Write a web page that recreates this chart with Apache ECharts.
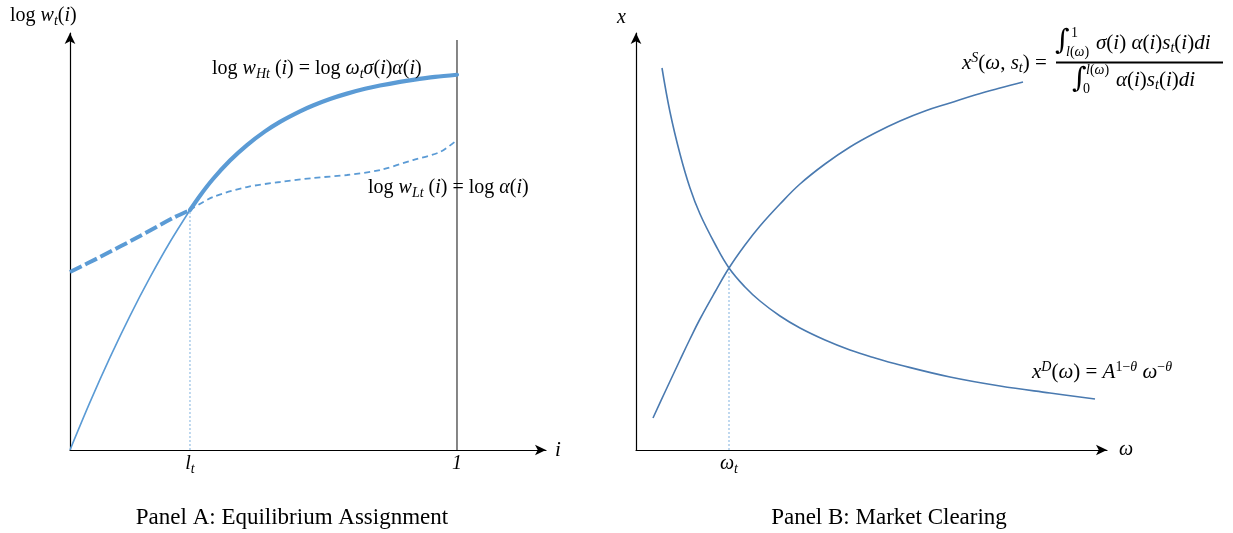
<!DOCTYPE html>
<html><head><meta charset="utf-8">
<script src="https://cdn.jsdelivr.net/npm/echarts@6/dist/echarts.min.js"></script>
<style>html,body{margin:0;padding:0;background:#fff}#c{width:1233px;height:533px}</style>
</head><body><div id="c"></div>
<script>
// ---------- Panel A: Equilibrium Assignment (i, log w) ----------
const lt = 0.31;
const highThinI  = [0, 0.0517, 0.1034, 0.1550, 0.2067, 0.2584, 0.3101];
const highThinW  = [0, 0.1133, 0.2194, 0.3180, 0.4090, 0.4929, 0.5687];
const highThickI = [0.3101, 0.3359, 0.3695, 0.4134, 0.4574, 0.5039, 0.5426, 0.5943, 0.6279, 0.6718, 0.7158,
                    0.7623, 0.8010, 0.8527, 0.8863, 0.9432, 1.0];
const highThickW = [0.5687, 0.6028, 0.6422, 0.6860, 0.7227, 0.7550, 0.7777, 0.8026, 0.8164, 0.8318, 0.8445,
                    0.8559, 0.8637, 0.8725, 0.8773, 0.8841, 0.8893];
const lowThickI  = [0, 0.0775, 0.1809, 0.2661, 0.3101];
const lowThickW  = [0.4218, 0.4573, 0.5071, 0.5498, 0.5687];
const lowThinI   = [0.3101, 0.3695, 0.4574, 0.5426, 0.6279, 0.7158, 0.8010, 0.8863, 0.9561, 1.0];
const lowThinW   = [0.5687, 0.5995, 0.6232, 0.6351, 0.6445, 0.6517, 0.6635, 0.6872, 0.7062, 0.7346];
const boundI = 1, boundTop = 0.9716, ltW = 0.5687;
const xTicksA = [lt, 1];

// ---------- Panel B: Market Clearing (omega, x) ----------
const omegaT = 0.93, xT = 1.82;
const demandOmega = [0.26, 0.34, 0.44, 0.54, 0.64, 0.79, 0.93, 1.09, 1.24, 1.44, 1.64, 1.89, 2.14, 2.39, 2.64, 3.14, 3.64, 4.14, 4.59];
const demandX     = [3.82, 3.38, 2.96, 2.62, 2.36, 2.06, 1.82, 1.63, 1.49, 1.34, 1.22, 1.10, 1.00, 0.92, 0.85, 0.73, 0.64, 0.57, 0.51];
const supplyOmega = [0.17, 0.29, 0.44, 0.54, 0.64, 0.79, 0.93, 1.09, 1.24, 1.44, 1.64, 1.89, 2.14, 2.39, 2.64, 2.89, 3.14, 3.39, 3.64, 3.87];
const supplyX     = [0.32, 0.58, 0.90, 1.11, 1.31, 1.58, 1.82, 2.05, 2.24, 2.46, 2.66, 2.86, 3.03, 3.17, 3.29, 3.39, 3.47, 3.55, 3.62, 3.68];
const xTicksB = [omegaT];

const zip = (a, b) => a.map((v, k) => [v, b[k]]);

const MF = "'Liberation Serif', 'DejaVu Serif', serif";
const FS = 20;
const rich = {
  n:  {fontFamily: MF, fontSize: FS, lineHeight: 24, verticalAlign: 'middle', color: '#000'},
  i:  {fontFamily: MF, fontSize: FS, fontStyle: 'italic', lineHeight: 24, verticalAlign: 'middle', color: '#000'},
  fn: {fontFamily: MF, fontSize: 21, lineHeight: 24, verticalAlign: 'middle', color: '#000'},
  fi: {fontFamily: MF, fontSize: 21, fontStyle: 'italic', lineHeight: 24, verticalAlign: 'middle', color: '#000'},
  sb: {fontFamily: MF, fontSize: 14, fontStyle: 'italic', lineHeight: 14, verticalAlign: 'bottom', color: '#000'},
  sp: {fontFamily: MF, fontSize: 14, fontStyle: 'italic', lineHeight: 14, verticalAlign: 'top', color: '#000'},
  spn:{fontFamily: MF, fontSize: 14, lineHeight: 14, verticalAlign: 'top', color: '#000'},
  lim:{fontFamily: MF, fontSize: 14, fontStyle: 'italic', lineHeight: 14, verticalAlign: 'middle', color: '#000'},
  limn:{fontFamily: MF, fontSize: 14, lineHeight: 14, verticalAlign: 'middle', color: '#000'}
};
const R = toks => toks.map(t => '{' + t[0] + '|' + t[1] + '}').join('');

function txt(x, y, toks) {
  return {type: 'text', x: x, y: y, z: 50,
    style: {text: R(toks), rich: rich, align: 'left', verticalAlign: 'middle'}};
}
function plain(x, y, s, size, family) {
  return {type: 'text', x: x, y: y, z: 50, style: {text: s, fontFamily: family || MF, fontSize: size,
    fill: '#000', align: 'left', verticalAlign: 'middle'}};
}

const blueA = '#5b9bd5', blueB = '#4a7ab0', dotC = '#9dc3e6';
const axisLine = {show: true, symbol: ['none', 'arrow'], symbolSize: [8, 11],
  lineStyle: {color: '#000', width: 1.2}};

const option = {
  animation: false,
  backgroundColor: '#fff',
  grid: [
    {left: 70, top: 33, width: 476, height: 417},
    {left: 636, top: 33, width: 471, height: 417}
  ],
  xAxis: [
    {gridIndex: 0, type: 'value', min: 0, max: 1.23, axisLine: axisLine, splitLine: {show: false},
     axisTick: {show: false},
     axisLabel: {show: true, customValues: xTicksA, margin: 2,
       formatter: v => v === 1 ? '{i|1}' : '{i|l}{sb|t}', rich: rich},
     name: 'i', nameLocation: 'end', nameGap: 9,
     nameTextStyle: {fontFamily: MF, fontSize: 21, fontStyle: 'italic', color: '#000', verticalAlign: 'middle'}},
    {gridIndex: 1, type: 'value', min: 0, max: 4.71, axisLine: axisLine, splitLine: {show: false},
     axisTick: {show: false},
     axisLabel: {show: true, customValues: xTicksB, margin: 2,
       formatter: () => '{i|ω}{sb|t}', rich: rich},
     name: 'ω', nameLocation: 'end', nameGap: 12,
     nameTextStyle: {fontFamily: MF, fontSize: 20, fontStyle: 'italic', color: '#000', verticalAlign: 'middle'}}
  ],
  yAxis: [
    {gridIndex: 0, type: 'value', min: 0, max: 0.9882, axisLine: axisLine, splitLine: {show: false},
     axisTick: {show: false}, axisLabel: {show: false}},
    {gridIndex: 1, type: 'value', min: 0, max: 4.17, axisLine: axisLine, splitLine: {show: false},
     axisTick: {show: false}, axisLabel: {show: false}}
  ],
  series: [
    {type: 'line', xAxisIndex: 0, yAxisIndex: 0, data: [[boundI, 0], [boundI, boundTop]], showSymbol: false,
     lineStyle: {color: '#222', width: 1.1}, silent: true},
    {type: 'line', xAxisIndex: 0, yAxisIndex: 0, data: [[lt, 0], [lt, ltW]], showSymbol: false,
     lineStyle: {color: dotC, width: 1.3, type: [2, 2]}, silent: true},
    {type: 'line', xAxisIndex: 0, yAxisIndex: 0, data: zip(highThinI, highThinW), smooth: 0.3, showSymbol: false,
     lineStyle: {color: blueA, width: 1.6}},
    {type: 'line', xAxisIndex: 0, yAxisIndex: 0, data: zip(highThickI, highThickW), smooth: 0.3, showSymbol: false,
     lineStyle: {color: blueA, width: 4.2, cap: 'round'}},
    {type: 'line', xAxisIndex: 0, yAxisIndex: 0, data: zip(lowThickI, lowThickW), smooth: 0.3, showSymbol: false,
     lineStyle: {color: blueA, width: 4, type: [13, 4]}},
    {type: 'line', xAxisIndex: 0, yAxisIndex: 0, data: zip(lowThinI, lowThinW), smooth: 0.3, showSymbol: false,
     lineStyle: {color: blueA, width: 1.8, type: [6, 4]}},
    {type: 'line', xAxisIndex: 1, yAxisIndex: 1, data: [[omegaT, 0], [omegaT, xT]], showSymbol: false,
     lineStyle: {color: dotC, width: 1.3, type: [2, 2]}, silent: true},
    {type: 'line', xAxisIndex: 1, yAxisIndex: 1, data: zip(demandOmega, demandX), smooth: 0.4, showSymbol: false,
     lineStyle: {color: blueB, width: 1.6}},
    {type: 'line', xAxisIndex: 1, yAxisIndex: 1, data: zip(supplyOmega, supplyX), smooth: 0.4, showSymbol: false,
     lineStyle: {color: blueB, width: 1.6}}
  ],
  graphic: [
    txt(10, 16, [['n', 'log '], ['i', 'w'], ['sb', 't'], ['n', '('], ['i', 'i'], ['n', ')']]),
    txt(212, 69, [['n', 'log '], ['i', 'w'], ['sb', 'Ht'], ['n', ' ('], ['i', 'i'], ['n', ') = log '], ['i', 'ω'], ['sb', 't'],
                  ['i', 'σ'], ['n', '('], ['i', 'i'], ['n', ')'], ['i', 'α'], ['n', '('], ['i', 'i'], ['n', ')']]),
    txt(368, 188, [['n', 'log '], ['i', 'w'], ['sb', 'Lt'], ['n', ' ('], ['i', 'i'], ['n', ') = log '], ['i', 'α'], ['n', '('], ['i', 'i'], ['n', ')']]),
    txt(617, 18, [['i', 'x']]),
    txt(962, 63, [['fi', 'x'], ['sp', 'S'], ['fn', '('], ['fi', 'ω'], ['fn', ', '], ['fi', 's'], ['sb', 't'], ['fn', ') =']]),
    {type: 'line', z: 50, shape: {x1: 1056, y1: 62.5, x2: 1223, y2: 62.5}, style: {stroke: '#000', lineWidth: 1.8}},
    plain(1055, 42, '∫', 28, "'DejaVu Serif', serif"),
    txt(1071, 33, [['limn', '1']]),
    txt(1066, 52, [['lim', 'l'], ['limn', '('], ['lim', 'ω'], ['limn', ')']]),
    txt(1096, 43, [['fi', 'σ'], ['fn', '('], ['fi', 'i'], ['fn', ') '], ['fi', 'α'], ['fn', '('], ['fi', 'i'], ['fn', ')'], ['fi', 's'], ['sb', 't'],
                   ['fn', '('], ['fi', 'i'], ['fn', ')'], ['fi', 'di']]),
    plain(1072, 80, '∫', 28, "'DejaVu Serif', serif"),
    txt(1086, 70, [['lim', 'l'], ['limn', '('], ['lim', 'ω'], ['limn', ')']]),
    txt(1083, 89, [['limn', '0']]),
    txt(1116, 80, [['fi', 'α'], ['fn', '('], ['fi', 'i'], ['fn', ')'], ['fi', 's'], ['sb', 't'], ['fn', '('], ['fi', 'i'], ['fn', ')'], ['fi', 'di']]),
    txt(1032, 372, [['fi', 'x'], ['sp', 'D'], ['fn', '('], ['fi', 'ω'], ['fn', ') = '], ['fi', 'A'], ['spn', '1−'], ['sp', 'θ'],
                    ['fn', ' '], ['fi', 'ω'], ['spn', '−'], ['sp', 'θ']]),
    {type: 'text', x: 292, y: 518, z: 50, style: {text: 'Panel A: Equilibrium Assignment', fontFamily: MF, fontSize: 23,
      fill: '#000', align: 'center', verticalAlign: 'middle'}},
    {type: 'text', x: 889, y: 518, z: 50, style: {text: 'Panel B: Market Clearing', fontFamily: MF, fontSize: 23,
      fill: '#000', align: 'center', verticalAlign: 'middle'}}
  ]
};
const chart = echarts.init(document.getElementById('c'), null, {renderer: 'canvas'});
chart.setOption(option);
</script></body></html>
